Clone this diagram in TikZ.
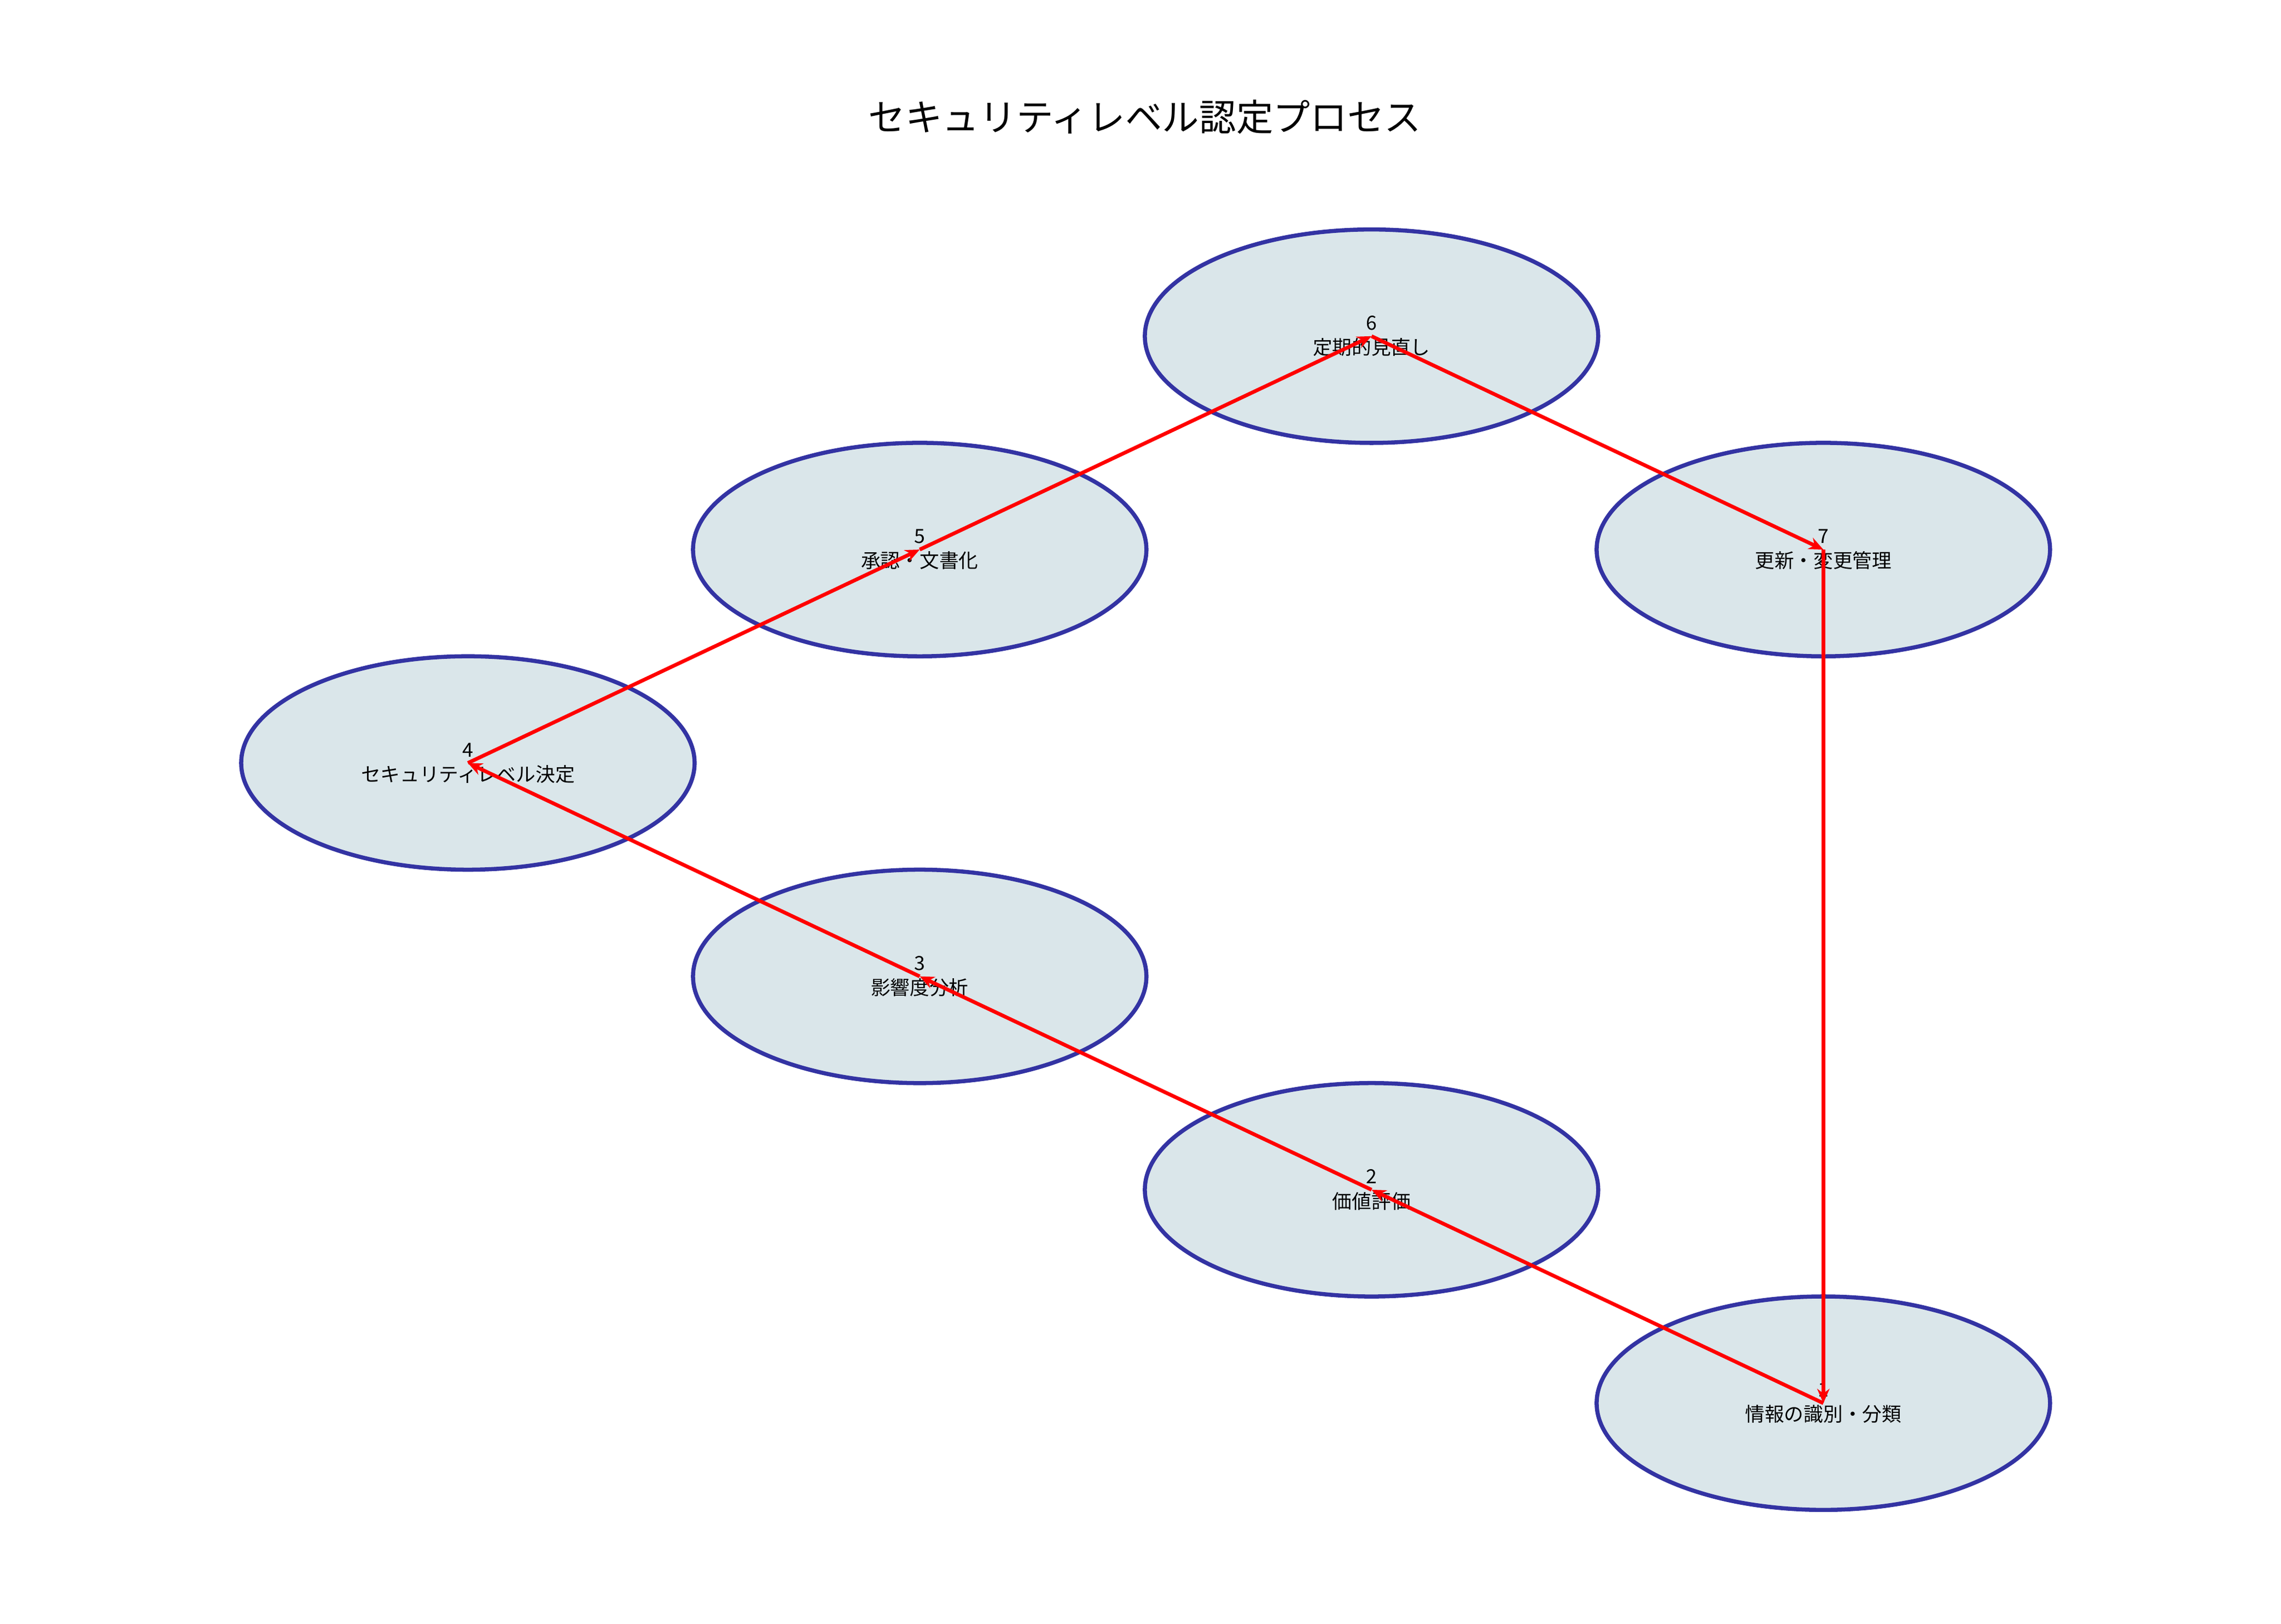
\documentclass[tikz,border=0pt]{standalone}
\usepackage{fontspec}
\setmainfont{Noto Sans CJK JP}
\usetikzlibrary{shapes.geometric,arrows.meta}

\begin{document}
\begin{tikzpicture}[x=0.025cm,y=-0.025cm,
  stage/.style={ellipse,draw=blue!55!black!80,fill=cyan!30!gray!25,line width=2pt,
    minimum width=7.75cm,minimum height=3.65cm,align=center,font=\fontsize{9.5}{12}\selectfont},
  flow/.style={draw=red,line width=1.8pt,-{Stealth[length=7pt,width=6pt]}}]
\useasboundingbox (0,0) rectangle (1560,1111);
\fill[white] (0,0) rectangle (1560,1111);

\node[font=\fontsize{18}{22}\selectfont] (title) at (783,80) {セキュリティレベル認定プロセス};

%stages of the process
\node[stage] (s1) at (1247,960) {1\\情報の識別・分類};
\node[stage] (s2) at (938,814) {2\\価値評価};
\node[stage] (s3) at (629,668) {3\\影響度分析};
\node[stage] (s4) at (320,522) {4\\セキュリティレベル決定};
\node[stage] (s5) at (629,376) {5\\承認・文書化};
\node[stage] (s6) at (938,230) {6\\定期的見直し};
\node[stage] (s7) at (1247,376) {7\\更新・変更管理};

\draw[flow] (s1.center) -- (s2.center);
\draw[flow] (s2.center) -- (s3.center);
\draw[flow] (s3.center) -- (s4.center);
\draw[flow] (s4.center) -- (s5.center);
\draw[flow] (s5.center) -- (s6.center);
\draw[flow] (s6.center) -- (s7.center);
\draw[flow] (s7.center) -- (s1.center);

\end{tikzpicture}
\end{document}
